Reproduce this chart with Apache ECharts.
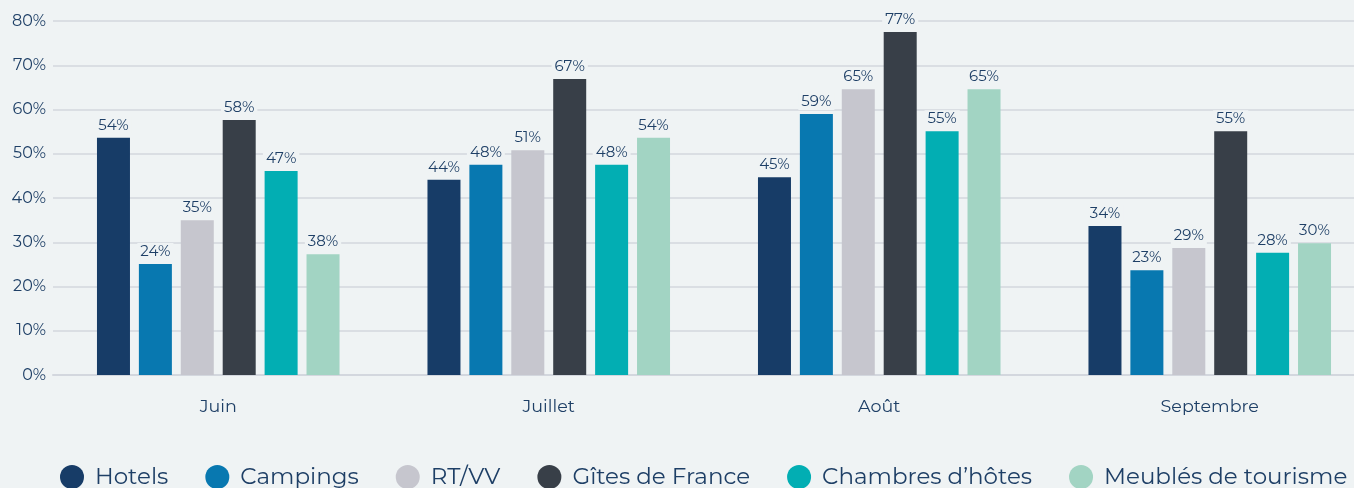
<!DOCTYPE html>
<html>
    <head>
        <meta charset="utf-8" />
        <script src="https://cdn.jsdelivr.net/npm/echarts@6/dist/echarts.min.js"></script>
    </head>
    <body>
        <style>
            html, body, #main {
                width: 100%;
                padding: 0;
                margin: 0;
                height: 100%;
                background: #eff3f4;
            }
        </style>
        <div id="main"></div>
        <script>
            var months = ['Juin', 'Juillet', 'Août', 'Septembre'];
            var seriesNames = ['Hotels', 'Campings', 'RT/VV', 'Gîtes de France', 'Chambres d’hôtes', 'Meublés de tourisme'];
            var colors = ['#173c67', '#0878b0', '#c6c6ce', '#383f48', '#02aeb3', '#a2d4c3'];

            // bar heights as drawn
            var hotels = [53.6, 44.1, 44.7, 33.7];
            var campings = [25.1, 47.5, 59.0, 23.7];
            var rtvv = [35.0, 50.8, 64.6, 28.7];
            var gites = [57.6, 66.9, 77.5, 55.1];
            var chambres = [46.1, 47.5, 55.1, 27.6];
            var meubles = [27.3, 53.6, 64.6, 29.8];

            // printed labels
            var hotelsLbl = [54, 44, 45, 34];
            var campingsLbl = [24, 48, 59, 23];
            var rtvvLbl = [35, 51, 65, 29];
            var gitesLbl = [58, 67, 77, 55];
            var chambresLbl = [47, 48, 55, 28];
            var meublesLbl = [38, 54, 65, 30];

            var values = [hotels, campings, rtvv, gites, chambres, meubles];
            var labels = [hotelsLbl, campingsLbl, rtvvLbl, gitesLbl, chambresLbl, meublesLbl];

            var font = 'Montserrat, "Noto Sans", sans-serif';
            var textColor = '#1e3f66';

            var chart = echarts.init(document.getElementById('main'));

            var series = seriesNames.map(function (name, i) {
                return {
                    name: name,
                    type: 'bar',
                    barWidth: 33,
                    barGap: '27%',
                    itemStyle: { color: colors[i] },
                    data: values[i].map(function (v, j) {
                        return { value: v, lbl: labels[i][j] };
                    }),
                    label: {
                        show: true,
                        position: 'top',
                        distance: 4,
                        color: textColor,
                        fontFamily: font,
                        fontSize: 15,
                        backgroundColor: '#eff3f4',
                        padding: [1, 3],
                        formatter: function (p) {
                            return p.data.lbl + '%';
                        }
                    }
                };
            });

            chart.setOption({
                backgroundColor: '#eff3f4',
                animation: false,
                grid: {
                    left: 53,
                    width: 1322,
                    top: 21,
                    bottom: 113,
                    outerBoundsMode: 'none'
                },
                legend: {
                    bottom: -1,
                    left: 60,
                    width: 1294,
                    padding: 0,
                    icon: 'circle',
                    itemWidth: 24,
                    itemHeight: 24,
                    itemGap: 37,
                    textStyle: {
                        color: textColor,
                        fontFamily: font,
                        fontSize: 23,
                        padding: [0, 0, 0, 6]
                    },
                    data: seriesNames
                },
                xAxis: {
                    type: 'category',
                    data: months,
                    axisTick: { show: false },
                    axisLine: { lineStyle: { color: '#d3d7de', width: 2 } },
                    axisLabel: {
                        color: textColor,
                        fontFamily: font,
                        fontSize: 17.5,
                        margin: 23
                    }
                },
                yAxis: {
                    type: 'value',
                    min: 0,
                    max: 80,
                    interval: 10,
                    axisLabel: {
                        color: textColor,
                        fontFamily: font,
                        fontSize: 16,
                        margin: 7,
                        formatter: '{value}%'
                    },
                    splitLine: { lineStyle: { color: '#d3d7de', width: 1.5 } }
                },
                series: series
            });
        </script>
    </body>
</html>
